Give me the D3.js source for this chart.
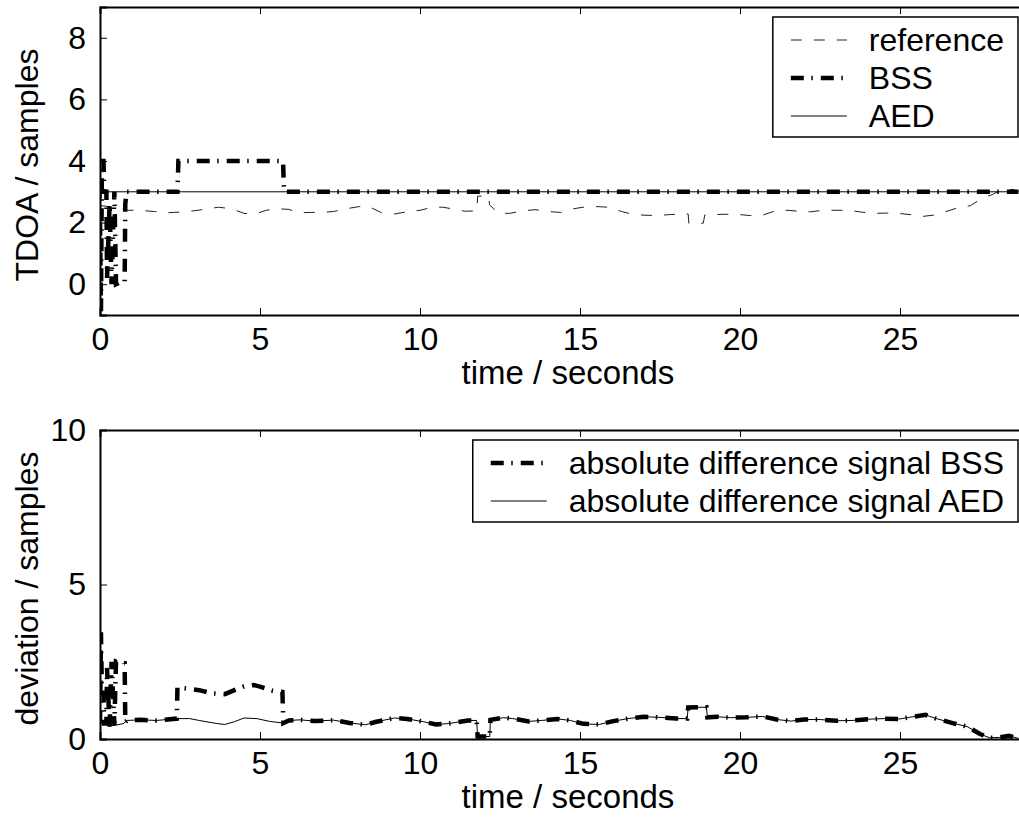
<!DOCTYPE html>
<html>
<head>
<meta charset="utf-8">
<script src="https://cdn.jsdelivr.net/npm/d3@7"></script>
<style>
  body { margin: 0; background: #fff; }
  svg { display: block; font-family: "Liberation Sans", Arial, Helvetica, sans-serif; }
</style>
</head>
<body>
<div id="chart"></div>
<script>
// top panel: TDOA estimates
const refT = [0, 0.5, 0.85, 1.2, 1.7, 2.1, 2.5, 2.9, 3.2, 3.7, 4.1, 4.5, 4.8, 5.2, 5.5, 5.9, 6.2, 6.6, 6.9, 7.3, 7.7, 8.1, 8.4, 8.8, 9.2, 9.6, 10.0, 10.4, 10.7, 11.0, 11.4, 11.78, 11.8, 12.15, 12.17, 12.45, 12.8, 13.2, 13.6, 14.0, 14.4, 14.8, 15.1, 15.5, 15.9, 16.3, 16.6, 17.0, 17.45, 17.8, 18.2, 18.38, 18.4, 18.85, 18.9, 19.5, 19.9, 20.3, 20.7, 21.1, 21.5, 21.8, 22.2, 22.6, 23.0, 23.4, 23.8, 24.2, 24.6, 24.95, 25.4, 25.7, 26.1, 26.5, 26.8, 27.2, 27.5, 27.9, 28.1, 28.5, 28.7];
const refV = [2.55, 2.5, 2.4, 2.4, 2.36, 2.32, 2.34, 2.38, 2.42, 2.5, 2.45, 2.3, 2.27, 2.4, 2.45, 2.43, 2.32, 2.33, 2.33, 2.36, 2.45, 2.52, 2.52, 2.32, 2.28, 2.35, 2.4, 2.5, 2.5, 2.45, 2.37, 2.38, 2.86, 2.86, 2.58, 2.3, 2.3, 2.38, 2.42, 2.36, 2.33, 2.45, 2.5, 2.52, 2.5, 2.36, 2.28, 2.24, 2.23, 2.26, 2.28, 2.28, 1.98, 1.98, 2.25, 2.27, 2.27, 2.23, 2.24, 2.38, 2.4, 2.37, 2.35, 2.4, 2.4, 2.4, 2.34, 2.3, 2.31, 2.3, 2.25, 2.2, 2.25, 2.38, 2.48, 2.55, 2.75, 2.92, 3.02, 3.08, 3.02];

const bssT = [0, 0.03, 0.06, 0.11, 0.13, 0.2, 0.22, 0.3, 0.36, 0.45, 0.5, 0.6, 0.77, 0.79, 0.83, 2.42, 2.45, 5.72, 5.75, 28.7];
const bssV = [2.0, -0.9, 4.0, 4.0, 3.0, 3.0, 0.2, 2.6, 0.0, 3.0, 0.0, 0.05, 0.05, 2.6, 3.0, 3.0, 4.0, 4.0, 3.0, 3.0];

const aedT = [0, 0.05, 10, 20, 28.7];
const aedV = [2.5, 3.0, 3.0, 3.0, 3.0];

// bottom panel: absolute deviation from reference
const aedDevT = [0, 0.1, 0.3, 0.5, 0.73, 0.85, 1.25, 1.77, 2.4, 2.8, 3.1, 3.65, 3.9, 4.2, 4.5, 4.9, 5.3, 5.7, 5.9, 6.25, 6.7, 7.3, 7.8, 8.3, 8.6, 9.2, 9.6, 10.1, 10.5, 10.9, 11.5, 11.77, 11.8, 12.18, 12.2, 12.6, 12.9, 13.4, 13.8, 14.3, 14.7, 15.1, 15.6, 16.0, 16.5, 17.0, 17.5, 18.0, 18.35, 18.38, 18.95, 18.98, 19.3, 19.7, 20.2, 20.7, 21.15, 21.6, 22.0, 22.5, 23.0, 23.5, 24.0, 24.5, 25.0, 25.4, 25.8, 26.1, 26.7, 27.1, 27.5, 27.8, 28.1, 28.4, 28.7];
const aedDevV = [0.5, 0.52, 0.42, 0.45, 0.5, 0.6, 0.62, 0.6, 0.66, 0.66, 0.6, 0.5, 0.47, 0.56, 0.68, 0.66, 0.57, 0.52, 0.6, 0.62, 0.58, 0.61, 0.52, 0.46, 0.55, 0.68, 0.65, 0.56, 0.47, 0.5, 0.6, 0.6, 0.08, 0.08, 0.62, 0.69, 0.66, 0.57, 0.6, 0.65, 0.6, 0.49, 0.47, 0.57, 0.66, 0.72, 0.7, 0.66, 0.66, 1.02, 1.03, 0.7, 0.72, 0.69, 0.7, 0.73, 0.63, 0.58, 0.63, 0.63, 0.59, 0.6, 0.64, 0.66, 0.65, 0.72, 0.78, 0.67, 0.5, 0.4, 0.16, 0.04, 0.05, 0.1, 0.02];

const bssDevT = [0, 0.03, 0.06, 0.11, 0.13, 0.2, 0.22, 0.3, 0.36, 0.45, 0.5, 0.6, 0.77, 0.79, 0.85, 1.25, 1.77, 2.4, 2.42, 2.8, 3.1, 3.5, 3.9, 4.2, 4.5, 4.8, 5.05, 5.4, 5.7, 5.73, 5.9, 6.25, 6.7, 7.3, 7.8, 8.3, 8.6, 9.2, 9.6, 10.1, 10.5, 10.9, 11.5, 11.77, 11.8, 12.18, 12.2, 12.6, 12.9, 13.4, 13.8, 14.3, 14.7, 15.1, 15.6, 16.0, 16.5, 17.0, 17.5, 18.0, 18.35, 18.38, 18.95, 18.98, 19.3, 19.7, 20.2, 20.7, 21.15, 21.6, 22.0, 22.5, 23.0, 23.5, 24.0, 24.5, 25.0, 25.4, 25.8, 26.1, 26.7, 27.1, 27.5, 27.8, 28.1, 28.4, 28.7];
const bssDevV = [0.5, 3.45, 1.5, 1.5, 0.5, 0.5, 2.3, 0.4, 2.5, 0.45, 2.5, 2.45, 2.45, 0.55, 0.6, 0.62, 0.6, 0.66, 1.67, 1.62, 1.58, 1.48, 1.45, 1.58, 1.7, 1.75, 1.68, 1.56, 1.52, 0.52, 0.6, 0.62, 0.58, 0.61, 0.52, 0.46, 0.55, 0.68, 0.65, 0.56, 0.47, 0.5, 0.6, 0.6, 0.08, 0.08, 0.62, 0.69, 0.66, 0.57, 0.6, 0.65, 0.6, 0.49, 0.47, 0.57, 0.66, 0.72, 0.7, 0.66, 0.66, 1.02, 1.03, 0.7, 0.72, 0.69, 0.7, 0.73, 0.63, 0.58, 0.63, 0.63, 0.59, 0.6, 0.64, 0.66, 0.65, 0.72, 0.78, 0.67, 0.5, 0.4, 0.16, 0.04, 0.05, 0.1, 0.02];

const xTicks = [0, 5, 10, 15, 20, 25];
const topYTicks = [0, 2, 4, 6, 8];
const botYTicks = [0, 5, 10];

const width = 1019, height = 821;
const left = 100, right = 1021;
const fontSize = 32;

const svg = d3.select("#chart").append("svg")
  .attr("width", width)
  .attr("height", height);

const styles = {
  ref: { stroke: "#222", width: 1, dash: "11,12" },
  bss: { stroke: "#000", width: 4.5, dash: "13,7.5,1.5,8" },
  aed: { stroke: "#000", width: 1, dash: null }
};

function panel(id, top, bottom, yDomain, yTicks, yTitle, series, legend) {
  const x = d3.scaleLinear().domain([0, 28.78]).range([left, right]);
  const y = d3.scaleLinear().domain(yDomain).range([bottom, top]);
  const g = svg.append("g");

  g.append("clipPath").attr("id", "clip-" + id)
    .append("rect").attr("x", left).attr("y", top)
    .attr("width", right - left).attr("height", bottom - top);

  const line = d3.line().x(d => x(d[0])).y(d => y(d[1]));
  const plot = g.append("g").attr("clip-path", `url(#clip-${id})`);
  series.forEach(s => {
    const pts = s.t.map((t, i) => [t, s.v[i]]);
    plot.append("path")
      .datum(pts)
      .attr("d", line)
      .attr("fill", "none")
      .attr("stroke", s.style.stroke)
      .attr("stroke-width", s.style.width)
      .attr("stroke-dasharray", s.style.dash)
      .attr("stroke-linejoin", "miter");
  });

  // axes, ticks pointing inward (box on)
  const xAxis = d3.axisBottom(x).tickValues(xTicks).tickSize(-7).tickPadding(12).tickFormat(d3.format("d"));
  const xAxisTop = d3.axisTop(x).tickValues(xTicks).tickSize(-7).tickFormat("");
  const yAxis = d3.axisLeft(y).tickValues(yTicks).tickSize(-7).tickPadding(14).tickFormat(d3.format("d"));

  const gx = g.append("g").attr("transform", `translate(0,${bottom})`).call(xAxis);
  const gxt = g.append("g").attr("transform", `translate(0,${top})`).call(xAxisTop);
  const gy = g.append("g").attr("transform", `translate(${left},0)`).call(yAxis);
  [gx, gxt, gy].forEach(a => {
    a.select(".domain").attr("stroke", "#000").attr("stroke-width", 2);
    a.selectAll(".tick line").attr("stroke", "#000").attr("stroke-width", 1);
    a.selectAll("text").attr("font-size", fontSize).attr("font-family", "Liberation Sans, Arial, sans-serif").attr("fill", "#000");
  });

  g.append("text")
    .attr("x", 568)
    .attr("y", bottom + 69)
    .attr("text-anchor", "middle")
    .attr("font-size", 33)
    .text("time / seconds");

  g.append("text")
    .attr("transform", `translate(38,${(top + bottom) / 2 + 4}) rotate(-90)`)
    .attr("text-anchor", "middle")
    .attr("font-size", fontSize)
    .text(yTitle);

  // legend, anchored to the upper right corner
  const lg = g.append("g");
  const rowH = 38;
  const boxRight = 1018;
  const texts = legend.rows.map((r, i) => lg.append("text")
    .attr("y", legend.y + 23 + i * rowH)
    .attr("dy", "0.35em")
    .attr("font-size", fontSize)
    .text(r.label));
  const textW = d3.max(texts, t => t.node().getComputedTextLength());
  const textX = boxRight - 14 - textW;
  texts.forEach(t => t.attr("x", textX));
  const boxLeft = textX - 96;
  lg.insert("rect", "text")
    .attr("x", boxLeft)
    .attr("y", legend.y)
    .attr("width", boxRight - boxLeft)
    .attr("height", legend.rows.length * rowH + 6)
    .attr("fill", "#fff")
    .attr("stroke", "#000")
    .attr("stroke-width", 1.5);
  legend.rows.forEach((r, i) => {
    const yy = legend.y + 23 + i * rowH;
    lg.append("line")
      .attr("x1", boxLeft + 18).attr("x2", boxLeft + 74)
      .attr("y1", yy).attr("y2", yy)
      .attr("stroke", r.style.stroke)
      .attr("stroke-width", r.style.width)
      .attr("stroke-dasharray", r.style.dash);
  });
}

panel("top", 7, 315, [-1, 9], topYTicks, "TDOA / samples", [
  { t: refT, v: refV, style: styles.ref },
  { t: aedT, v: aedV, style: styles.aed },
  { t: bssT, v: bssV, style: styles.bss }
], {
  y: 17,
  rows: [
    { label: "reference", style: styles.ref },
    { label: "BSS", style: styles.bss },
    { label: "AED", style: styles.aed }
  ]
});

panel("bot", 430, 739, [0, 10], botYTicks, "deviation / samples", [
  { t: aedDevT, v: aedDevV, style: styles.aed },
  { t: bssDevT, v: bssDevV, style: styles.bss }
], {
  y: 440,
  rows: [
    { label: "absolute difference signal BSS", style: styles.bss },
    { label: "absolute difference signal AED", style: styles.aed }
  ]
});
</script>
</body>
</html>
